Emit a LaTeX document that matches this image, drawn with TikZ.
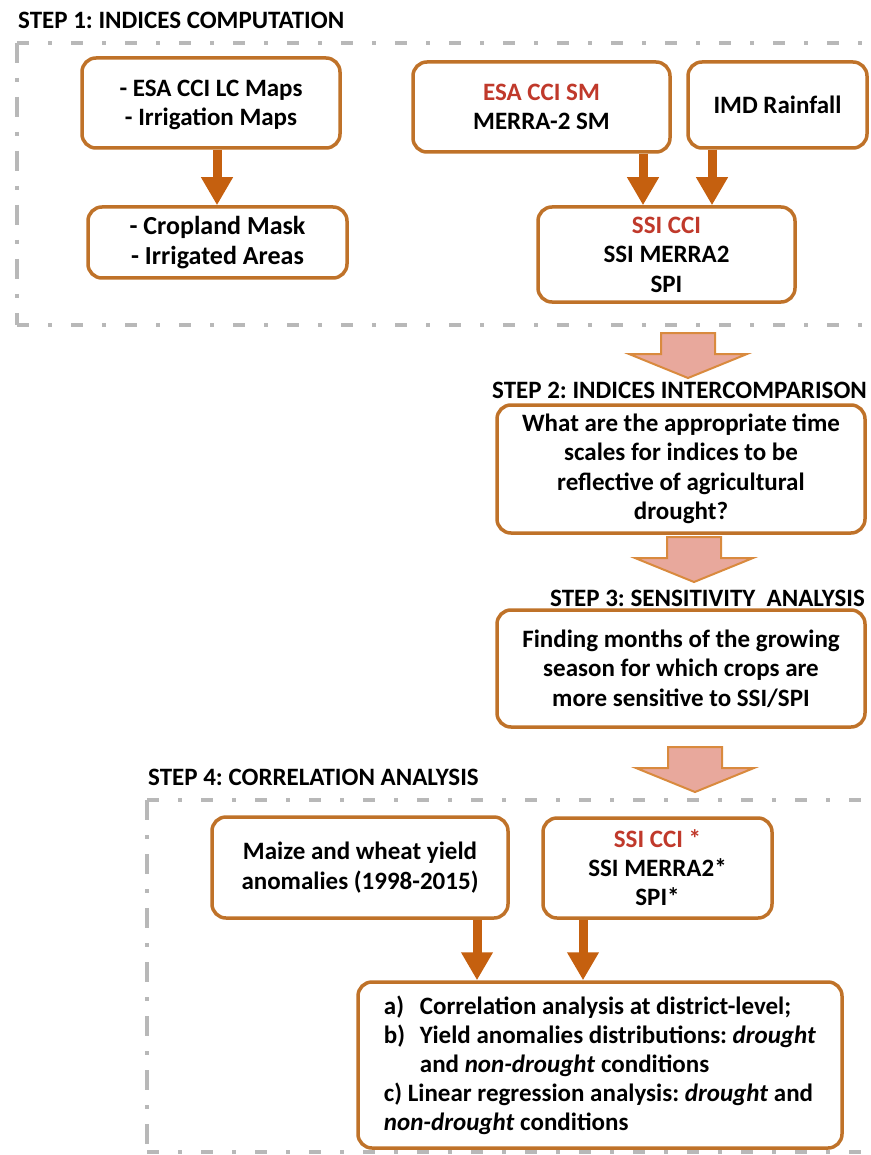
\documentclass[tikz,border=0pt]{standalone}
\usepackage{fontspec}
\setmainfont{Carlito}
\frenchspacing
\usetikzlibrary{arrows.meta,calc}
\definecolor{boxc}{HTML}{BF7229}
\definecolor{arrc}{HTML}{C5600F}
\definecolor{pinkf}{HTML}{E8A89C}
\definecolor{pinkd}{HTML}{D98A3E}
\definecolor{redt}{HTML}{C0392B}
\definecolor{dashc}{HTML}{B8B8B8}
\begin{document}
\begin{tikzpicture}[x=1pt,y=-1pt,
 box/.style={draw=boxc, line width=3.5pt, rounded corners=14pt, fill=white, align=center, inner sep=0pt, font=\fontsize{25}{29.5}\selectfont\bfseries},
 title/.style={anchor=west, inner sep=0pt, font=\fontsize{25}{29}\selectfont\bfseries},
 hframe/.style={draw=dashc, line width=3.5pt, dash pattern=on 12pt off 19pt on 4pt off 19pt},
 vframe/.style={draw=dashc, line width=3.5pt, dash pattern=on 20pt off 15pt on 4pt off 15pt},
 flow/.style={draw=arrc, line width=9pt, -{Triangle[width=30pt,length=28pt]}},
 bigarrow/.style={draw=pinkd, fill=pinkf, line width=2pt, line join=miter},
 pics/bigdown/.style={code={\draw[bigarrow] (-27,0) -- (27,0) -- (27,21) -- (59,21) -- (0,45) -- (-59,21) -- (-27,21) -- cycle;}}]
\useasboundingbox (0,0) rectangle (870,1155);
\fill[white] (0,0) rectangle (870,1155);

% frames
\draw[hframe] (17,43) -- (885,43);
\draw[hframe] (17,325) -- (885,325);
\draw[vframe] (17,43) -- (17,325);
\draw[hframe] (147,800) -- (885,800);
\draw[hframe] (147,1152) -- (885,1152);
\draw[vframe] (147,800) -- (147,1155);

% titles
\node[title] (t1) at (18,20) {STEP 1: INDICES COMPUTATION};
\node[title] (t2) at (492,390) {STEP 2: INDICES INTERCOMPARISON};
\node[title] (t3) at (550,598) {STEP 3: SENSITIVITY\ \ ANALYSIS};
\node[title] (t4) at (148,777) {STEP 4: CORRELATION ANALYSIS};

% step 1 boxes
\node[box, minimum width=258, minimum height=90, text depth=0pt] (a) at (211,103) {- ESA CCI LC Maps\\- Irrigation Maps};
\node[box, minimum width=259, minimum height=71, font=\fontsize{26}{30}\selectfont\bfseries] (b) at (217.5,242.5) {- Cropland Mask\\- Irrigated Areas};
\node[box, minimum width=257, minimum height=90] (c) at (541.5,107) {\textcolor{redt}{ESA CCI SM}\\MERRA-2 SM};
\node[box, minimum width=179, minimum height=86] (d) at (777.5,105) {IMD Rainfall};
\node[box, minimum width=257, minimum height=95] (e) at (666.5,254.5) {\textcolor{redt}{SSI CCI}\\SSI MERRA2\\SPI};

\coordinate (xa) at (217,0);
\coordinate (xc) at (643,0);
\coordinate (xd) at (712,0);
\draw[flow] (xa |- a.south) -- (xa |- b.north);
\draw[flow] (xc |- c.south) -- (xc |- e.north);
\draw[flow] (xd |- d.south) -- (xd |- e.north);

% step 2, 3
\node[box, minimum width=368, minimum height=128] (f) at (681,469) {What are the appropriate time\\scales for indices to be\\reflective of agricultural\\drought?};
\node[box, minimum width=368, minimum height=117] (g) at (681,668.5) {Finding months of the growing\\season for which crops are\\more sensitive to SSI/SPI};

\pic at (688,333) {bigdown};
\pic at (694,537) {bigdown};
\pic at (695,747) {bigdown};

% step 4
\node[box, minimum width=296, minimum height=101, font=\fontsize{25}{30}\selectfont\bfseries] (h) at (360,867.5) {Maize and wheat yield\\anomalies (1998-2015)};
\node[box, minimum width=229, minimum height=100, font=\fontsize{25}{29}\selectfont\bfseries] (i) at (657.5,868) {\textcolor{redt}{SSI CCI *}\\SSI MERRA2*\\SPI*};
\node[box, minimum width=484, minimum height=166, align=left, font=\fontsize{25}{29}\selectfont\bfseries] (j) at (600,1065) {\makebox[36pt][l]{a)}Correlation analysis at district-level;\\\makebox[36pt][l]{b)}Yield anomalies distributions: \textit{drought}\\\hspace*{36pt}and \textit{non-drought} conditions\\c) Linear regression analysis: \textit{drought} and\\\textit{non-drought} conditions};

\coordinate (xh) at (477,0);
\coordinate (xi) at (583,0);
\draw[flow] (xh |- h.south) -- (xh |- j.north);
\draw[flow] (xi |- i.south) -- (xi |- j.north);
\end{tikzpicture}
\end{document}
